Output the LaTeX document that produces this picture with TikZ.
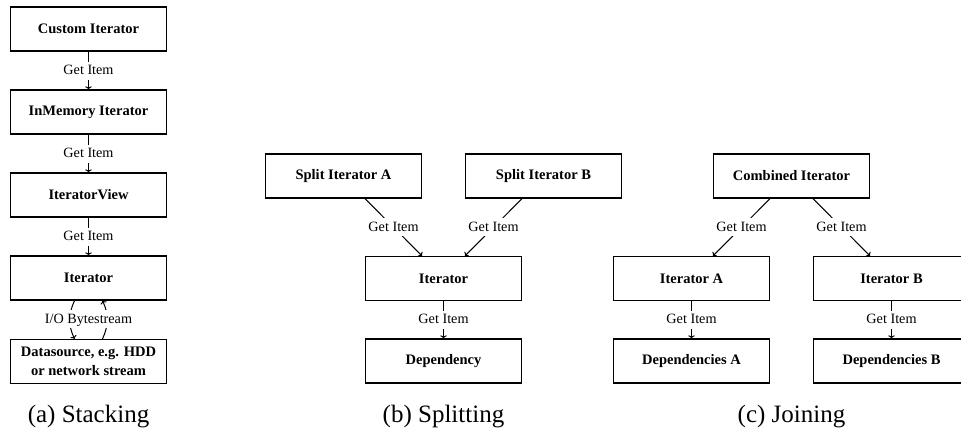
\documentclass[tikz,border=0pt]{standalone}
\usepackage{fontspec}
\setmainfont{Liberation Serif}
\usetikzlibrary{arrows.meta}
\begin{document}
\begin{tikzpicture}[x=1pt,y=-1pt,
  box/.style={draw,line width=1.3pt,minimum width=156pt,minimum height=44pt,inner sep=2pt,
    font=\fontsize{14.5}{18.5}\selectfont\bfseries,align=center},
  conn/.style={line width=1pt,-{To[length=3pt,width=6.5pt]}},
  lbl/.style={fill=white,inner sep=3pt,text height=10pt,text depth=2pt,font=\fontsize{14.2}{16}\selectfont},
  captxt/.style={font=\fontsize{25}{30}\selectfont,anchor=base}]
\useasboundingbox (0,0) rectangle (961,429);
% (a) Stacking
\node[box] (ci) at (88.5,29) {Custom Iterator};
\node[box] (im) at (88.5,112) {InMemory Iterator};
\node[box] (iv) at (88.5,195) {IteratorView};
\node[box] (it) at (88.5,278) {Iterator};
\node[box] (ds) at (88.5,361.5) {Datasource, e.g. HDD\\or network stream};
\draw[conn] (ci) -- node[lbl]{Get Item} (im);
\draw[conn] (im) -- node[lbl]{Get Item} (iv);
\draw[conn] (iv) -- node[lbl]{Get Item} (it);
\draw[conn] ([xshift=-14pt]it.south) to[bend right=25] ([xshift=-14pt]ds.north);
\draw[conn] ([xshift=14pt]ds.north) to[bend right=25] ([xshift=14pt]it.south);
\node[lbl] (io) at (88.5,319) {I/O Bytestream};
\node[captxt] (capa) at (88.5,422) {(a) Stacking};
% (b) Splitting
\node[box] (sa) at (343.5,176) {Split Iterator A};
\node[box] (sb) at (543.5,176) {Split Iterator B};
\node[box] (bi) at (443.5,278.5) {Iterator};
\node[box] (bd) at (443.5,361) {Dependency};
\draw[conn] ([xshift=21.5pt]sa.south) -- node[lbl]{Get Item} ([xshift=-21.5pt]bi.north);
\draw[conn] ([xshift=-21.5pt]sb.south) -- node[lbl]{Get Item} ([xshift=21.5pt]bi.north);
\draw[conn] (bi) -- node[lbl]{Get Item} (bd);
\node[captxt] (capb) at (443.5,422) {(b) Splitting};
% (c) Joining
\node[box] (cc) at (791.5,176) {Combined Iterator};
\node[box] (ia) at (691.5,278.5) {Iterator A};
\node[box] (ib) at (891.5,278.5) {Iterator B};
\node[box] (da) at (691.5,361) {Dependencies A};
\node[box] (db) at (891.5,361) {Dependencies B};
\draw[conn] ([xshift=-21.5pt]cc.south) -- node[lbl]{Get Item} ([xshift=21.5pt]ia.north);
\draw[conn] ([xshift=21.5pt]cc.south) -- node[lbl]{Get Item} ([xshift=-21.5pt]ib.north);
\draw[conn] (ia) -- node[lbl]{Get Item} (da);
\draw[conn] (ib) -- node[lbl]{Get Item} (db);
\node[captxt] (capc) at (791.5,422) {(c) Joining};
\end{tikzpicture}
\end{document}
